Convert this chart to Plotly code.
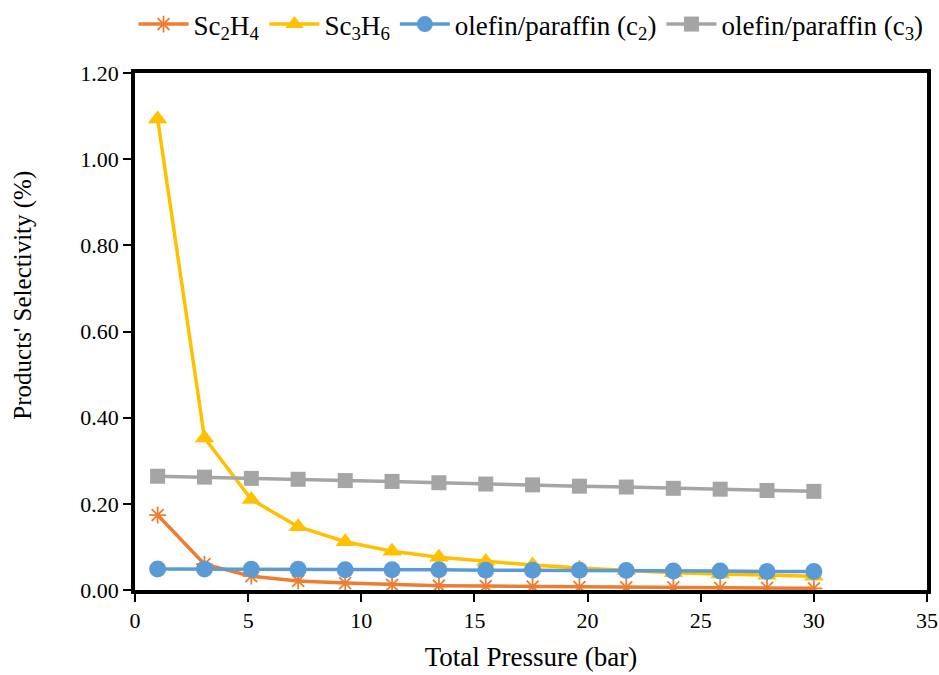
import plotly.graph_objects as go

pressure = [1, 3.07, 5.14, 7.21, 9.29, 11.36, 13.43, 15.5, 17.57, 19.64, 21.71, 23.79, 25.86, 27.93, 30]
sc2h4 = [0.174, 0.060, 0.032, 0.021, 0.016, 0.012, 0.010, 0.009, 0.008, 0.007, 0.006, 0.006, 0.005, 0.005, 0.004]
sc3h6 = [1.093, 0.353, 0.210, 0.147, 0.112, 0.090, 0.076, 0.066, 0.058, 0.051, 0.045, 0.040, 0.037, 0.034, 0.032]
op_c2 = [0.049, 0.049, 0.048, 0.048, 0.047, 0.047, 0.047, 0.046, 0.046, 0.046, 0.045, 0.044, 0.044, 0.043, 0.043]
op_c3 = [0.264, 0.262, 0.259, 0.257, 0.254, 0.252, 0.249, 0.246, 0.244, 0.241, 0.239, 0.236, 0.234, 0.231, 0.229]

x_ticks = [0, 5, 10, 15, 20, 25, 30, 35]
y_ticks = [0, 0.2, 0.4, 0.6, 0.8, 1.0, 1.2]

FONT = "Liberation Serif, Times New Roman, serif"

fig = go.Figure()
fig.add_trace(go.Scatter(x=pressure, y=sc2h4, name="Sc<sub>2</sub>H<sub>4</sub>", mode="lines+markers",
                         line=dict(color="#ED7D31", width=3.5),
                         marker=dict(symbol="asterisk-open", size=14, color="#ED7D31",
                                     line=dict(color="#ED7D31", width=1.8))))
fig.add_trace(go.Scatter(x=pressure, y=sc3h6, name="Sc<sub>3</sub>H<sub>6</sub>", mode="lines+markers",
                         line=dict(color="#FFC000", width=3.5),
                         marker=dict(symbol="triangle-up", size=17, color="#FFC000")))
fig.add_trace(go.Scatter(x=pressure, y=op_c2, name="olefin/paraffin (c<sub>2</sub>)", mode="lines+markers",
                         line=dict(color="#5B9BD5", width=3.5),
                         marker=dict(symbol="circle", size=17, color="#5B9BD5")))
fig.add_trace(go.Scatter(x=pressure, y=op_c3, name="olefin/paraffin (c<sub>3</sub>)", mode="lines+markers",
                         line=dict(color="#A5A5A5", width=3.5),
                         marker=dict(symbol="square", size=15, color="#A5A5A5")))

fig.update_layout(
    width=939, height=675,
    paper_bgcolor="white", plot_bgcolor="white",
    margin=dict(l=135, r=12, t=73, b=85, autoexpand=False),
    font=dict(family=FONT, size=22, color="black"),
    legend=dict(orientation="h", x=0.5, xanchor="center", y=1.0, yanchor="top",
                yref="container", font=dict(size=27), traceorder="normal",
                itemwidth=50, tracegroupgap=0),
    showlegend=True,
)
fig.update_xaxes(range=[0, 35], tickvals=x_ticks, ticks="outside", ticklen=8, tickwidth=2,
                 tickcolor="black", showline=True, linewidth=3.5, linecolor="black", mirror=True,
                 showgrid=False, zeroline=False, tickfont=dict(size=22),
                 title=dict(text="Total Pressure (bar)", font=dict(size=27), standoff=16))
fig.update_yaxes(range=[0, 1.2], tickvals=y_ticks, tickformat=".2f", ticks="outside", ticklen=8,
                 tickwidth=2, tickcolor="black", showline=True, linewidth=3.5, linecolor="black",
                 mirror=True, showgrid=False, zeroline=False, tickfont=dict(size=22))
fig.add_annotation(text="Products' Selectivity (%)", textangle=-90, showarrow=False,
                   xref="paper", yref="paper", x=-0.141, y=0.57, xanchor="center", yanchor="middle",
                   font=dict(size=25, family=FONT, color="black"))

fig.write_html("out.html", config={"displayModeBar": False},
               post_script="document.body.style.margin='0';")
